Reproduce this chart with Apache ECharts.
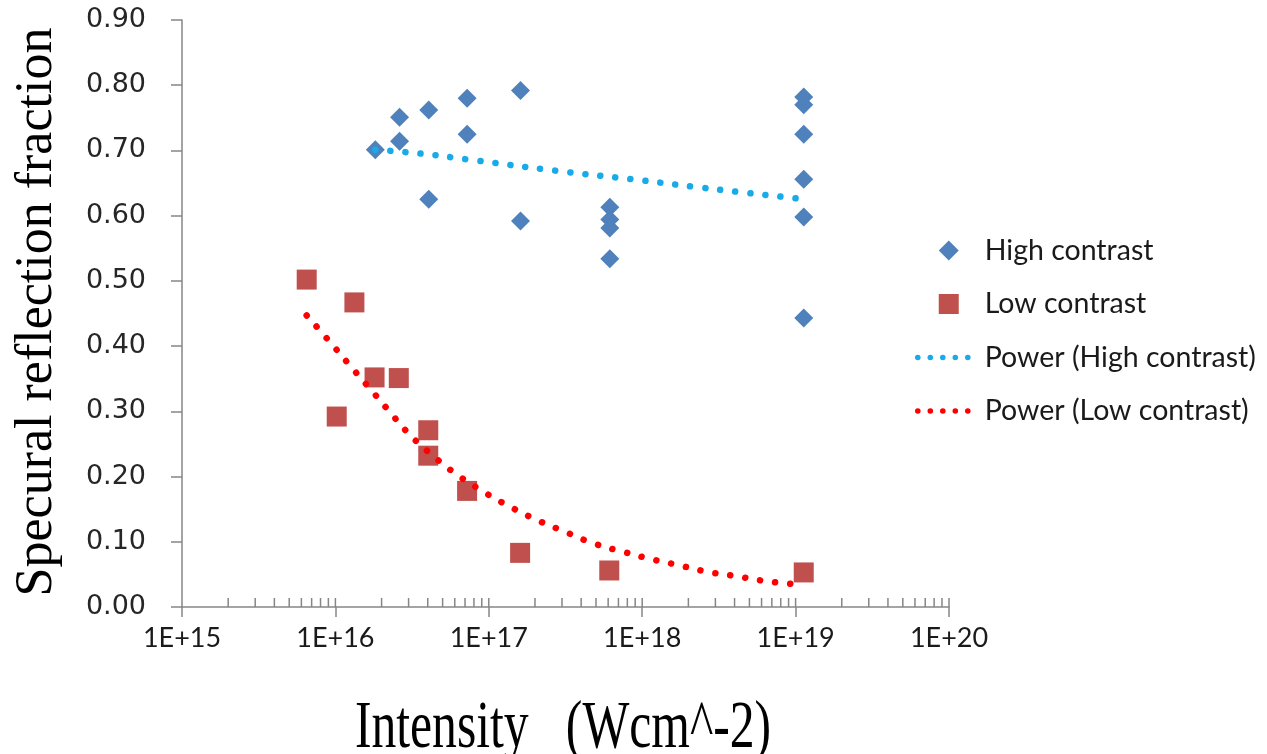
<!DOCTYPE html>
<html>
<head>
<meta charset="utf-8">
<script src="https://cdn.jsdelivr.net/npm/echarts@6/dist/echarts.min.js"></script>
<style>
html, body { margin: 0; padding: 0; background: #ffffff; }
#chart { width: 1267px; height: 754px; }
</style>
</head>
<body>
<div id="chart"></div>
<script>
// Measured specular reflection fraction vs. laser intensity (W cm^-2)
const highX = [1.82e16, 2.62e16, 2.62e16, 4.06e16, 4.06e16, 7.22e16, 7.22e16, 1.61e17, 1.61e17,
               6.15e17, 6.15e17, 6.15e17, 6.15e17,
               1.13e19, 1.13e19, 1.13e19, 1.13e19, 1.13e19, 1.13e19];
const highY = [0.701, 0.751, 0.714, 0.762, 0.625, 0.780, 0.725, 0.792, 0.592,
               0.613, 0.594, 0.581, 0.534,
               0.782, 0.770, 0.725, 0.656, 0.598, 0.443];

const lowX = [6.5e15, 1.33e16, 1.02e16, 1.80e16, 2.59e16, 4.03e16, 4.03e16, 7.22e16, 1.60e17, 6.1e17, 1.13e19];
const lowY = [0.502, 0.467, 0.292, 0.352, 0.351, 0.271, 0.232, 0.178, 0.083, 0.056, 0.053];

// Power-law trend lines
const trendHighX = [1.82e16, 3.66e16, 7.4e16, 2.95e17, 9.2e17, 2.23e18, 4.4e18, 1.06e19];
const trendHighY = [0.701, 0.695, 0.686, 0.668, 0.655, 0.644, 0.636, 0.626];

const trendLowX = [6.5e15, 8.9e15, 1.2e16, 1.63e16, 2.21e16, 3.01e16, 4.24e16, 6.12e16, 9.0e16,
                   1.36e17, 2.06e17, 3.16e17, 4.89e17, 7.62e17, 1.16e18, 1.74e18, 2.64e18,
                   4.12e18, 6.28e18, 9.72e18];
const trendLowY = [0.447, 0.4105, 0.3746, 0.3384, 0.302, 0.2657, 0.2335, 0.2039, 0.1783,
                   0.1544, 0.1334, 0.115, 0.0971, 0.0843, 0.0731, 0.0639, 0.0541,
                   0.0471, 0.0399, 0.0353];

const seriesNames = ['High contrast', 'Low contrast', 'Power (High contrast)', 'Power (Low contrast)'];
const xDecades = [15, 16, 17, 18, 19, 20];
const yTicks = [0, 0.1, 0.2, 0.3, 0.4, 0.5, 0.6, 0.7, 0.8, 0.9];

const zip = (xs, ys) => xs.map((x, i) => [x, ys[i]]);

// Small inward ticks at 2..10 within every decade of the log axis
const innerTicks = [];
for (let d = xDecades[0]; d < xDecades[xDecades.length - 1]; d++) {
  for (let m = 2; m <= 10; m++) innerTicks.push([m * Math.pow(10, d), 0]);
}

const axisGrey = '#868686';
const blue = '#4F81BD';
const red = '#C0504D';
const cyan = '#18ABE8';
const trendRed = '#FF0000';

// Path icons keep their aspect ratio inside the wide legend slot
const diamondIcon = 'path://M10,0L20,10L10,20L0,10Z';
const squareIcon = 'path://M0,0H20V20H0Z';

const chart = echarts.init(document.getElementById('chart'), null, { renderer: 'canvas' });
chart.setOption({
  animation: false,
  backgroundColor: '#ffffff',
  grid: { left: 182, right: 318, top: 20, bottom: 147, containLabel: false, outerBoundsMode: 'none' },
  xAxis: {
    type: 'log',
    logBase: 10,
    min: Math.pow(10, xDecades[0]),
    max: Math.pow(10, xDecades[xDecades.length - 1]),
    splitLine: { show: false },
    axisLine: { show: true, lineStyle: { color: axisGrey, width: 1.5 } },
    axisTick: { show: true, inside: false, length: 10, lineStyle: { color: axisGrey, width: 1.5 } },
    minorTick: { show: false },
    axisLabel: {
      margin: 18,
      fontFamily: 'Lato',
      fontSize: 27,
      color: '#1a1a1a',
      formatter: v => '1E+' + Math.round(Math.log10(v))
    }
  },
  yAxis: {
    type: 'value',
    min: yTicks[0],
    max: yTicks[yTicks.length - 1],
    interval: 0.1,
    splitLine: { show: false },
    axisLine: { show: true, lineStyle: { color: axisGrey, width: 1.5 } },
    axisTick: { show: true, inside: false, length: 11, lineStyle: { color: axisGrey, width: 1.5 } },
    axisLabel: {
      margin: 36,
      fontFamily: 'DejaVu Sans',
      fontSize: 27,
      color: '#262626',
      formatter: v => v.toFixed(2)
    }
  },
  legend: {
    data: [
      { name: seriesNames[0], icon: diamondIcon },
      { name: seriesNames[1], icon: squareIcon },
      { name: seriesNames[2], itemStyle: { opacity: 0 } },
      { name: seriesNames[3], itemStyle: { opacity: 0 } }
    ],
    orient: 'vertical',
    left: 910,
    top: 231,
    itemWidth: 62,
    itemHeight: 20,
    itemGap: 24.5,
    align: 'left',
    selectedMode: false,
    symbolKeepAspect: true,
    textStyle: { fontFamily: 'Lato', fontSize: 28.5, color: '#1a1a1a' },
    lineStyle: { width: 5.5, type: [0.1, 12.4], cap: 'round', opacity: 1 }
  },
  graphic: [
    {
      type: 'text',
      x: 563, y: 729,
      scaleX: 0.73,
      silent: true,
      style: {
        text: 'Intensity   (Wcm^-2)',
        fontFamily: 'Liberation Serif',
        fontSize: 68,
        fill: '#000000',
        align: 'center',
        verticalAlign: 'middle'
      }
    },
    {
      type: 'text',
      x: 37, y: 312,
      rotation: Math.PI / 2,
      silent: true,
      style: {
        text: 'Specural reflection fraction',
        fontFamily: 'Liberation Serif',
        fontSize: 52,
        fill: '#000000',
        align: 'center',
        verticalAlign: 'middle'
      }
    }
  ],
  series: [
    {
      name: 'axis-minor-ticks',
      type: 'scatter',
      data: innerTicks,
      symbol: 'rect',
      symbolSize: [1.5, 9],
      symbolOffset: [0, -4.5],
      itemStyle: { color: axisGrey, opacity: 1 },
      silent: true,
      clip: false,
      z: 1,
      emphasis: { disabled: true }
    },
    {
      name: seriesNames[0],
      type: 'scatter',
      data: zip(highX, highY),
      symbol: 'diamond',
      symbolSize: 19,
      itemStyle: { color: blue, opacity: 1 },
      emphasis: { disabled: true },
      z: 2
    },
    {
      name: seriesNames[1],
      type: 'scatter',
      data: zip(lowX, lowY),
      symbol: 'rect',
      symbolSize: 20,
      itemStyle: { color: red, opacity: 1 },
      emphasis: { disabled: true },
      z: 2
    },
    {
      name: seriesNames[2],
      type: 'line',
      data: zip(trendHighX, trendHighY),
      smooth: true,
      symbol: 'none',
      color: cyan,
      lineStyle: { color: cyan, width: 6.5, type: [0.1, 15], cap: 'round' },
      emphasis: { disabled: true },
      z: 3
    },
    {
      name: seriesNames[3],
      type: 'line',
      data: zip(trendLowX, trendLowY),
      smooth: true,
      symbol: 'none',
      color: trendRed,
      lineStyle: { color: trendRed, width: 6.5, type: [0.1, 15], cap: 'round' },
      emphasis: { disabled: true },
      z: 3
    }
  ]
});
</script>
</body>
</html>
